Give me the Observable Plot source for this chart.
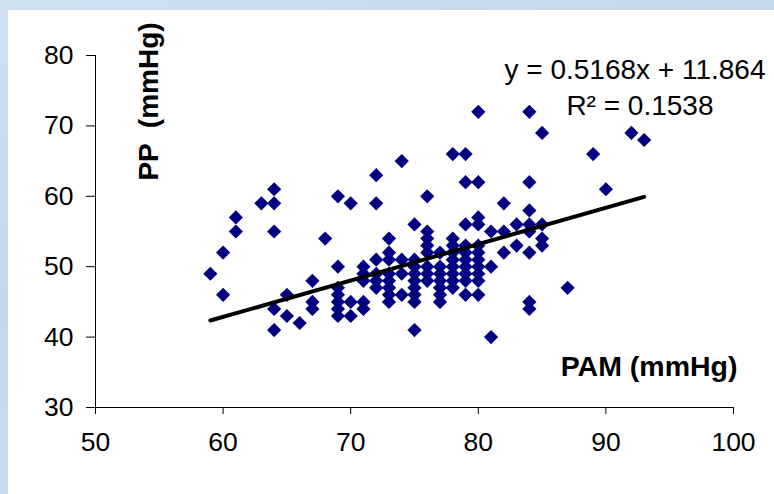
<!DOCTYPE html>
<html><head><meta charset="utf-8">
<script src="https://cdn.jsdelivr.net/npm/d3@7"></script>
<script src="https://cdn.jsdelivr.net/npm/@observablehq/plot@0.6"></script>
<style>
html,body{margin:0;padding:0;width:774px;height:494px;overflow:hidden;}
body{position:relative;background:linear-gradient(160deg,#cfe0f1 0%,#c3d7ec 40%,#d2e2f2 100%);font-family:"Liberation Sans",Arial,sans-serif;}
#panel{position:absolute;left:8px;top:10px;right:0;bottom:0;background:#fff;}
#chart{position:absolute;left:0;top:0;}
</style></head><body><div id="panel"></div><div id="chart"></div>
<script>
// PAM (x) and PP (y) values (mmHg)
const pamValues = [
  59,
  60,60,
  61,61,
  63,
  64,64,64,64,64,
  65,65,
  66,
  67,67,67,
  68,
  69,69,69,69,69,69,69,
  70,70,70,
  71,71,71,71,71,
  72,72,72,72,72,72,
  73,73,73,73,73,73,73,73,
  74,74,74,74,
  75,75,75,75,75,75,75,75,75,
  76,76,76,76,76,76,76,76,
  77,77,77,77,77,77,77,
  78,78,78,78,78,78,78,78,78,
  79,79,79,79,79,79,79,79,79,79,
  80,80,80,80,80,80,80,80,80,80,80,
  81,81,81,
  82,82,82,
  83,83,
  84,84,84,84,84,84,84,84,
  85,85,85,85,
  87,
  89,
  90,
  92,
  93
];
const ppValues = [
  49,
  52,46,
  57,55,
  59,
  61,59,55,44,41,
  46,43,
  42,
  48,45,44,
  54,
  60,50,47,46,45,44,43,
  59,45,43,
  50,49,48,45,44,
  63,59,51,49,48,47,
  54,52,51,49,48,47,46,45,
  65,51,49,46,
  56,51,50,49,48,47,46,45,41,
  60,55,54,53,52,50,49,48,
  52,50,49,48,47,46,45,
  66,54,53,52,51,50,49,48,47,
  66,62,56,53,52,51,50,49,48,46,
  72,62,57,56,53,52,51,50,49,48,46,
  55,50,40,
  59,55,52,
  56,53,
  72,62,58,56,55,52,45,44,
  69,56,54,53,
  47,
  66,
  61,
  69,
  68
];
const xTicks = [50, 60, 70, 80, 90, 100];
const yTicks = [30, 40, 50, 60, 70, 80];
const slope = 0.5168;
const intercept = 11.864;
const equationLabel = "y = 0.5168x + 11.864";
const r2Label = "R\u00B2 = 0.1538";
const xLabel = "PAM (mmHg)";
const yLabel = "PP  (mmHg)";

const points = pamValues.map((x, i) => ({pam: x, pp: ppValues[i]}));
const trend = d3.extent(pamValues).map(x => ({pam: x, pp: slope * x + intercept}));

const font = "'Liberation Sans', Arial, sans-serif";
const chart = Plot.plot({
  width: 774,
  height: 494,
  marginLeft: 95,
  marginRight: 41,
  marginTop: 55,
  marginBottom: 87,
  style: {background: "transparent", fontFamily: font, color: "#000", overflow: "visible"},
  x: {domain: [50, 100]},
  y: {domain: [30, 80]},
  marks: [
    Plot.axisX({ticks: xTicks, tickSize: 7, tickPadding: 18, fontSize: 26.5, label: null, stroke: "#000", strokeOpacity: 1}),
    Plot.axisY({ticks: yTicks, tickSize: 9, tickPadding: 13, fontSize: 26.5, label: null, stroke: "#000", strokeOpacity: 1}),
    Plot.ruleY([30], {stroke: "#000"}),
    Plot.ruleX([50], {stroke: "#000"}),
    Plot.dot(points, {x: "pam", y: "pp", symbol: "diamond2", r: 6.4, fill: "#000080", stroke: "none"}),
    Plot.line(trend, {x: "pam", y: "pp", stroke: "#000", strokeWidth: 4}),
    Plot.text([equationLabel], {text: d => d, frameAnchor: "top-right", textAnchor: "end", dx: 32, dy: 4, fontSize: 28, fill: "#000"}),
    Plot.text([r2Label], {text: d => d, frameAnchor: "top-right", textAnchor: "end", dx: -20, dy: 40, fontSize: 28, fill: "#000"}),
    Plot.text([xLabel], {text: d => d, frameAnchor: "bottom-right", textAnchor: "end", dx: 4, dy: -32, fontSize: 28.5, fontWeight: "bold", fill: "#000"}),
    Plot.text([yLabel], {text: d => d, frameAnchor: "top-left", rotate: -90, textAnchor: "middle", dx: 43, dy: 46, fontSize: 28, fontWeight: "bold", fill: "#000"})
  ]
});
document.getElementById("chart").appendChild(chart);
</script>
</body></html>
